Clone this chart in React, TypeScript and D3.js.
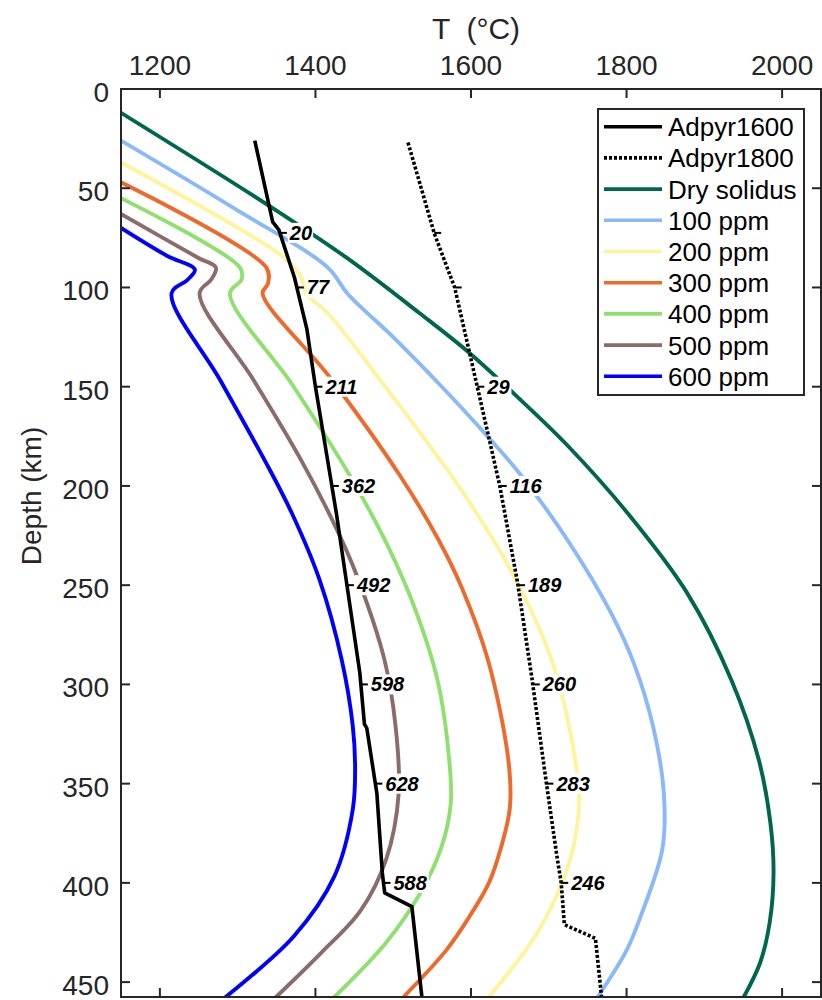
import React, { useEffect, useRef } from 'react';
import * as d3 from 'd3';

type Pt = [number, number]; // [depth (km), T (°C)]

const tTicks = [1200, 1400, 1600, 1800, 2000];
const depthTicks = [0, 50, 100, 150, 200, 250, 300, 350, 400, 450];

const drySolidus: Pt[] = [
  [12, 1150], [60, 1345], [85, 1440], [113, 1534], [133, 1598], [156, 1662], [180, 1725],
  [214, 1802], [254, 1878], [298, 1935], [338, 1970], [370, 1985], [395, 1989], [420, 1984],
  [440, 1972], [458, 1950],
];
const ppm100: Pt[] = [
  [26, 1150], [60, 1295], [90, 1416], [103, 1441], [125, 1500], [149, 1560], [174, 1619],
  [194, 1663], [229, 1727], [264, 1780], [290, 1810], [321, 1834], [355, 1848], [383, 1846],
  [417, 1818], [434, 1800], [458, 1762],
];
const ppm200: Pt[] = [
  [37, 1150], [85, 1360], [95, 1382], [103, 1388], [113, 1416], [147, 1484], [183, 1553],
  [200, 1584], [241, 1649], [288, 1704], [338, 1734], [360, 1739], [383, 1731], [405, 1712],
  [429, 1679], [458, 1622],
];
const ppm300: Pt[] = [
  [47, 1150], [90, 1337], [98, 1339], [103, 1332], [145, 1418], [195, 1509], [227, 1558],
  [252, 1589], [288, 1622], [338, 1648], [362, 1650], [383, 1638], [400, 1623], [417, 1598],
  [434, 1568], [458, 1512],
];
const ppm400: Pt[] = [
  [55, 1150], [90, 1303], [96, 1305], [103, 1290], [150, 1372], [194, 1443], [231, 1494],
  [264, 1530], [298, 1557], [338, 1572], [360, 1574], [382, 1562], [405, 1535], [430, 1491],
  [458, 1423],
];
const ppm500: Pt[] = [
  [63, 1150], [85, 1249], [90, 1272], [96, 1266], [103, 1251], [147, 1321], [188, 1383],
  [224, 1430], [247, 1455], [288, 1489], [321, 1503], [355, 1507], [388, 1491], [414, 1458],
  [435, 1408], [458, 1348],
];
const ppm600: Pt[] = [
  [70, 1150], [84, 1209], [91, 1245], [96, 1236], [103, 1215], [147, 1278], [188, 1336],
  [214, 1370], [247, 1405], [288, 1434], [321, 1448], [342, 1451], [363, 1448], [397, 1424],
  [427, 1372], [458, 1283],
];
const adpyr1600: Pt[] = [
  [26, 1322], [67, 1345], [71, 1353], [95, 1373], [121, 1389], [150, 1400], [195, 1419],
  [214, 1427], [294, 1457], [320, 1463], [322, 1466], [355, 1479], [395, 1486], [405, 1489],
  [412, 1524], [458, 1537],
];
const adpyr1800: Pt[] = [
  [27, 1519], [73, 1553], [100, 1579], [155, 1611], [200, 1637], [249, 1660], [296, 1678],
  [350, 1697], [388, 1711], [400, 1716], [421, 1720], [428, 1760], [458, 1768],
];

const labelDepths = [72.5, 100, 150, 200, 250, 300, 350, 400];
const adpyr1600Labels = ['20', '77', '211', '362', '492', '598', '628', '588'];
const adpyr1800Labels = ['', '', '29', '116', '189', '260', '283', '246'];

const seriesNames = ['Adpyr1600', 'Adpyr1800', 'Dry solidus', '100 ppm', '200 ppm', '300 ppm', '400 ppm', '500 ppm', '600 ppm'];
const seriesData = [adpyr1600, adpyr1800, drySolidus, ppm100, ppm200, ppm300, ppm400, ppm500, ppm600];
const seriesColors = ['#000000', '#000000', '#00664f', '#8ab8f8', '#fff39c', '#ee6a2c', '#90e070', '#8c6b6b', '#0000ff'];

const FONT = '"Liberation Sans", Arial, Helvetica, sans-serif';

const tAt = (data: Pt[], d: number) => {
  for (let i = 0; i < data.length - 1; i++) {
    const [d0, t0] = data[i];
    const [d1, t1] = data[i + 1];
    if (d >= d0 && d <= d1) return t0 + ((t1 - t0) * (d - d0)) / (d1 - d0);
  }
  return data[data.length - 1][1];
};

const App = () => {
  const ref = useRef<SVGSVGElement>(null);

  useEffect(() => {
    const svg = d3.select(ref.current);
    svg.selectAll('*').remove();

    const left = 121, right = 821, top = 89, bottom = 997;
    const x = d3.scaleLinear().domain([1150, 2050]).range([left, right]);
    const y = d3.scaleLinear().domain([0, 457.5]).range([top, bottom]);

    svg.append('rect').attr('width', 822).attr('height', 1000).attr('fill', '#fff');

    svg.append('clipPath').attr('id', 'plot-clip')
      .append('rect').attr('x', left).attr('y', top).attr('width', right - left).attr('height', bottom - top);

    const plot = svg.append('g').attr('clip-path', 'url(#plot-clip)');

    const smooth = d3.line<Pt>().x(d => x(d[1])).y(d => y(d[0])).curve(d3.curveCatmullRom.alpha(0.5));
    const straight = d3.line<Pt>().x(d => x(d[1])).y(d => y(d[0]));

    // colored curves first, then the adiabats on top
    for (let i = 2; i < seriesData.length; i++) {
      plot.append('path')
        .attr('d', smooth(seriesData[i]))
        .attr('fill', 'none')
        .attr('stroke', seriesColors[i])
        .attr('stroke-width', 3.9)
        .attr('stroke-linejoin', 'round');
    }
    plot.append('path')
      .attr('d', straight(adpyr1600))
      .attr('fill', 'none').attr('stroke', '#000').attr('stroke-width', 3.6)
      .attr('stroke-linejoin', 'round');
    plot.append('path')
      .attr('d', straight(adpyr1800))
      .attr('fill', 'none').attr('stroke', '#000').attr('stroke-width', 3.6)
      .attr('stroke-dasharray', '3,2');

    // labels along the adiabats
    const labels = svg.append('g');
    const addLabels = (data: Pt[], texts: string[]) => {
      labelDepths.forEach((dep, i) => {
        const lx = x(tAt(data, dep));
        const ly = y(dep);
        labels.append('line')
          .attr('x1', lx).attr('x2', lx + 7).attr('y1', ly).attr('y2', ly)
          .attr('stroke', '#000').attr('stroke-width', 2);
        if (!texts[i]) return;
        const txt = labels.append('text')
          .attr('x', lx + 10).attr('y', ly + 7)
          .attr('font-family', FONT).attr('font-size', 20)
          .attr('font-weight', 'bold').attr('font-style', 'italic')
          .attr('fill', '#000')
          .text(texts[i]);
        const bb = (txt.node() as SVGTextElement).getBBox();
        labels.insert('rect', () => txt.node())
          .attr('x', bb.x - 1).attr('y', bb.y + 1)
          .attr('width', bb.width + 2).attr('height', bb.height - 2)
          .attr('fill', '#fff');
      });
    };
    addLabels(adpyr1600, adpyr1600Labels);
    addLabels(adpyr1800, adpyr1800Labels);

    // frame and ticks
    const axisColor = '#262626';
    const ax = svg.append('g').attr('stroke', axisColor).attr('stroke-width', 2);
    ax.append('rect')
      .attr('x', left).attr('y', top).attr('width', right - left).attr('height', bottom - top)
      .attr('fill', 'none');
    tTicks.forEach(t => {
      ax.append('line').attr('x1', x(t)).attr('x2', x(t)).attr('y1', top).attr('y2', top + 9);
      ax.append('line').attr('x1', x(t)).attr('x2', x(t)).attr('y1', bottom).attr('y2', bottom - 9);
    });
    depthTicks.forEach(d => {
      ax.append('line').attr('x1', left).attr('x2', left + 9).attr('y1', y(d)).attr('y2', y(d));
      ax.append('line').attr('x1', right).attr('x2', right - 9).attr('y1', y(d)).attr('y2', y(d));
    });

    const txt = svg.append('g').attr('font-family', FONT).attr('fill', axisColor);
    tTicks.forEach(t => {
      txt.append('text').attr('x', x(t)).attr('y', 75).attr('text-anchor', 'middle')
        .attr('font-size', 28).text(String(t));
    });
    depthTicks.forEach(d => {
      txt.append('text').attr('x', left - 12).attr('y', y(d) + 13).attr('text-anchor', 'end')
        .attr('font-size', 28).text(String(d));
    });
    txt.append('text').attr('x', 476).attr('y', 39).attr('text-anchor', 'middle')
      .attr('font-size', 30).style('white-space', 'pre').text('T  (°C)');
    txt.append('text')
      .attr('transform', 'translate(41,496) rotate(-90)')
      .attr('text-anchor', 'middle').attr('font-size', 28).text('Depth (km)');

    // legend
    const lg = svg.append('g');
    lg.append('rect').attr('x', 598).attr('y', 109).attr('width', 206).attr('height', 286)
      .attr('fill', '#fff').attr('stroke', axisColor).attr('stroke-width', 2);
    seriesNames.forEach((name, i) => {
      const ry = 126.7 + i * 31.2;
      lg.append('line').attr('x1', 604).attr('x2', 662).attr('y1', ry).attr('y2', ry)
        .attr('stroke', seriesColors[i]).attr('stroke-width', 3.6)
        .attr('stroke-dasharray', i === 1 ? '3,2' : null);
      lg.append('text').attr('x', 668).attr('y', ry + 9.5)
        .attr('font-family', FONT).attr('font-size', 26).attr('fill', '#000').text(name);
    });
  }, []);

  return (
    <svg ref={ref} width={822} height={1000} style={{ position: 'absolute', left: 0, top: 0 }} />
  );
};

export default App;
